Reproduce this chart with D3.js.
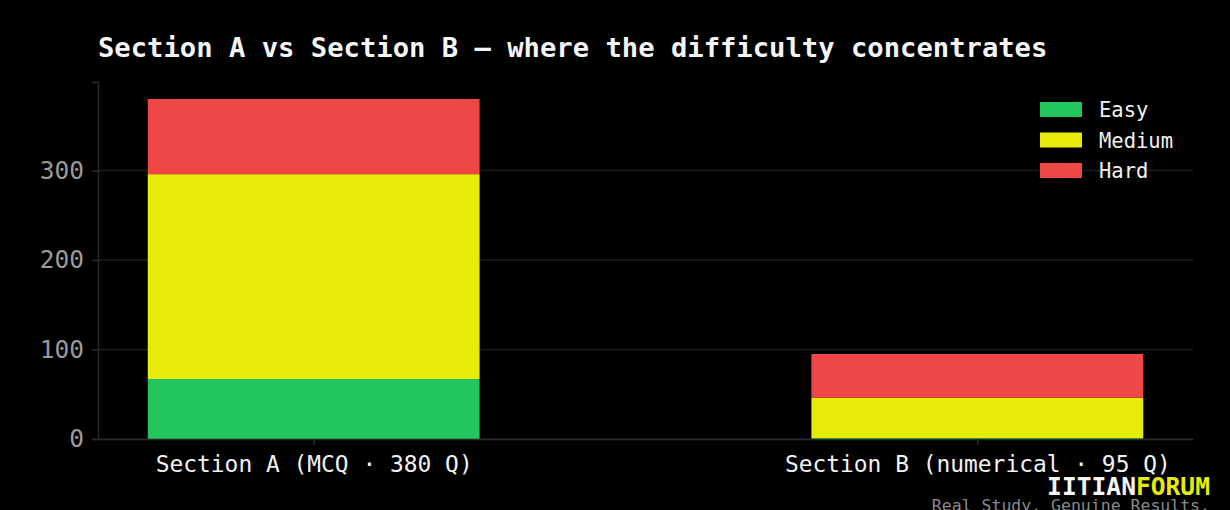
<!DOCTYPE html>
<html>
<head>
<meta charset="utf-8">
<script src="https://cdn.jsdelivr.net/npm/d3@7"></script>
<style>
  html, body { margin: 0; padding: 0; background: #000; }
  svg { display: block; }
</style>
</head>
<body>
<div id="content"></div>
<script>
const svgWidth = 1230, svgHeight = 510;

// data
const sections = ["Section A (MCQ · 380 Q)", "Section B (numerical · 95 Q)"];
const levels = ["Easy", "Medium", "Hard"];
const easy = [67, 1];
const medium = [229, 45];
const hard = [84, 49];
const yTicks = [0, 100, 200, 300];

const colors = { Easy: "#22c55e", Medium: "#e6eb0a", Hard: "#ef4646" };
const font = "'DejaVu Sans Mono', monospace";

const rows = sections.map((s, i) => ({ i, Easy: easy[i], Medium: medium[i], Hard: hard[i] }));
const stacked = d3.stack().keys(levels)(rows);

const plotL = 98, plotR = 1193, plotT = 82, plotB = 439;

const x = d3.scaleLinear().domain([-0.325, 1.325]).range([plotL, plotR]);
const total = d3.max(rows, d => d.Easy + d.Medium + d.Hard);
const y = d3.scaleLinear().domain([0, total * 1.05]).range([plotB, plotT]);
const barW = x(0.5) - x(0);

const svg = d3.select("#content").append("svg")
  .attr("width", svgWidth)
  .attr("height", svgHeight)
  .style("background", "#000");

// grid
svg.append("g").selectAll("line")
  .data(yTicks).enter().append("line")
  .attr("x1", plotL).attr("x2", plotR)
  .attr("y1", d => y(d)).attr("y2", d => y(d))
  .attr("stroke", "#1e1e1e").attr("stroke-width", 1.5);

// bars
svg.append("g").selectAll("g")
  .data(stacked).enter().append("g")
  .attr("fill", d => colors[d.key])
  .selectAll("rect")
  .data(d => d).enter().append("rect")
  .attr("x", d => x(d.data.i) - barW / 2)
  .attr("width", barW)
  .attr("y", d => y(d[1]))
  .attr("height", d => y(d[0]) - y(d[1]));

// y axis
const yAxis = svg.append("g")
  .attr("transform", `translate(${plotL},0)`)
  .call(d3.axisLeft(y).tickValues(yTicks).tickSize(6).tickPadding(8));
yAxis.select(".domain").attr("stroke", "#2a2a2a").attr("stroke-width", 1.5);
yAxis.selectAll(".tick line").attr("stroke", "#2a2a2a").attr("stroke-width", 1.5);
yAxis.selectAll("text")
  .attr("fill", "#9a9a9a")
  .style("font-family", font)
  .style("font-size", "24.5px");

// x axis
const xAxis = svg.append("g")
  .attr("transform", `translate(0,${plotB})`)
  .call(d3.axisBottom(x).tickValues([0, 1]).tickFormat(i => sections[i]).tickSize(6).tickPadding(11).tickSizeOuter(0));
xAxis.select(".domain").attr("stroke", "#2a2a2a").attr("stroke-width", 1.5);
xAxis.selectAll(".tick line").attr("stroke", "#2a2a2a").attr("stroke-width", 1.5);
xAxis.selectAll("text")
  .attr("fill", "#f2f2f2")
  .style("font-family", font)
  .style("font-size", "22.9px");

// title
svg.append("text")
  .attr("x", plotL).attr("y", 57)
  .attr("fill", "#f5f5f5")
  .style("font-family", font)
  .style("font-weight", "bold")
  .style("font-size", "27.2px")
  .text("Section A vs Section B — where the difficulty concentrates");

// legend
const legend = svg.append("g").attr("transform", "translate(1040,102)");
legend.selectAll("rect")
  .data(levels).enter().append("rect")
  .attr("x", 0).attr("y", (d, i) => i * 30.5)
  .attr("width", 42).attr("height", 15)
  .attr("fill", d => colors[d]);
legend.selectAll("text")
  .data(levels).enter().append("text")
  .attr("x", 59).attr("y", (d, i) => i * 30.5 + 15)
  .attr("fill", "#f2f2f2")
  .style("font-family", font)
  .style("font-size", "20.5px")
  .text(d => d);

// watermark
const wm = svg.append("text")
  .attr("x", 1210).attr("y", 495)
  .attr("text-anchor", "end")
  .style("font-family", font)
  .style("font-weight", "bold")
  .style("font-size", "24.6px");
wm.append("tspan").attr("fill", "#f5f5f5").text("IITIAN");
wm.append("tspan").attr("fill", "#e6eb0a").text("FORUM");

svg.append("text")
  .attr("x", 1210).attr("y", 511)
  .attr("text-anchor", "end")
  .attr("fill", "#8a8a8a")
  .style("font-family", font)
  .style("font-size", "16.5px")
  .text("Real Study. Genuine Results.");
</script>
</body>
</html>
